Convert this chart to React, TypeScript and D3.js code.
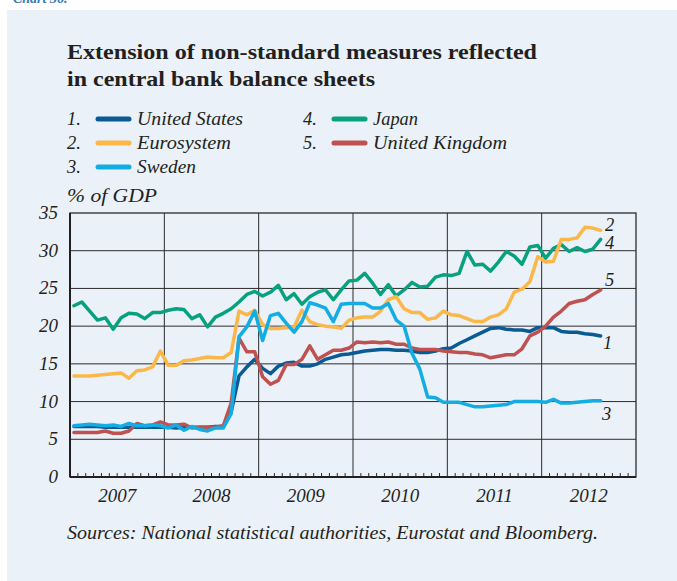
import React from 'react';
import * as d3 from 'd3';

// monthly observations, January 2007 to August 2012
const startYear = 2007;
const unitedStates = [6.7, 6.7, 6.7, 6.7, 6.6, 6.6, 6.6, 6.6, 6.6, 6.6, 6.6, 6.6, 6.6, 6.5, 6.6, 6.6, 6.6, 6.6, 6.7, 6.7, 8.6, 13.4, 14.6, 15.6, 14.4, 13.7, 14.7, 15.1, 15.2, 14.7, 14.7, 15.0, 15.6, 15.9, 16.2, 16.3, 16.5, 16.7, 16.8, 16.9, 16.9, 16.8, 16.8, 16.7, 16.5, 16.5, 16.7, 17.0, 17.1, 17.7, 18.2, 18.7, 19.2, 19.7, 19.8, 19.6, 19.5, 19.5, 19.3, 19.8, 19.8, 19.8, 19.3, 19.2, 19.2, 19.0, 18.9, 18.7];
const eurosystem = [13.4, 13.4, 13.4, 13.5, 13.6, 13.7, 13.8, 13.1, 14.1, 14.2, 14.6, 16.7, 14.8, 14.8, 15.4, 15.5, 15.7, 15.9, 15.8, 15.8, 16.5, 22.0, 21.5, 22.1, 20.2, 19.7, 19.7, 19.8, 19.9, 22.1, 20.6, 20.2, 20.0, 19.9, 19.7, 20.8, 21.1, 21.2, 21.2, 22.0, 23.5, 23.9, 22.3, 21.8, 21.8, 20.9, 21.1, 22.0, 21.5, 21.4, 21.0, 20.6, 20.6, 21.2, 21.5, 22.3, 24.5, 24.9, 25.9, 29.2, 28.5, 28.6, 31.5, 31.5, 31.7, 33.1, 33.0, 32.7];
const sweden = [6.8, 6.9, 7.0, 6.9, 6.8, 6.9, 6.7, 7.1, 6.8, 6.8, 6.9, 6.8, 6.5, 6.9, 6.2, 6.7, 6.3, 6.1, 6.5, 6.5, 8.4, 18.6, 19.9, 22.0, 18.1, 21.4, 21.7, 20.4, 19.2, 20.6, 23.1, 22.8, 22.4, 20.6, 22.9, 23.0, 23.0, 23.0, 22.4, 22.4, 23.0, 20.8, 20.0, 16.4, 14.3, 10.6, 10.5, 9.9, 9.9, 9.9, 9.6, 9.3, 9.3, 9.4, 9.5, 9.6, 10.0, 10.0, 10.0, 10.0, 9.9, 10.3, 9.8, 9.8, 9.9, 10.0, 10.1, 10.1];
const japan = [22.7, 23.2, 22.0, 20.8, 21.1, 19.6, 21.1, 21.7, 21.6, 21.0, 21.8, 21.8, 22.1, 22.3, 22.2, 21.0, 21.5, 19.9, 21.2, 21.7, 22.3, 23.2, 24.2, 24.6, 24.0, 24.5, 25.4, 23.5, 24.3, 22.9, 23.9, 24.5, 24.8, 23.5, 24.8, 26.0, 26.1, 27.0, 25.7, 24.2, 25.5, 24.0, 24.8, 25.8, 25.2, 25.3, 26.5, 26.8, 26.7, 27.0, 29.9, 28.1, 28.2, 27.3, 28.5, 29.9, 29.3, 28.2, 30.5, 30.7, 29.0, 30.3, 30.8, 29.9, 30.4, 29.9, 30.2, 31.5];
const unitedKingdom = [5.9, 5.9, 5.9, 5.9, 6.1, 5.8, 5.8, 6.1, 7.1, 6.8, 6.9, 7.3, 6.9, 6.9, 7.0, 6.5, 6.6, 6.6, 6.6, 6.8, 9.8, 18.4, 16.6, 16.6, 13.3, 12.3, 12.8, 14.9, 14.9, 15.6, 17.4, 15.6, 16.2, 16.8, 16.8, 17.1, 17.9, 17.8, 17.9, 17.8, 17.9, 17.6, 17.6, 17.1, 16.9, 16.9, 16.9, 16.7, 16.6, 16.5, 16.5, 16.3, 16.2, 15.8, 16.0, 16.2, 16.2, 17.0, 18.7, 19.2, 20.0, 21.2, 22.0, 23.0, 23.3, 23.5, 24.2, 24.8];

const seriesNames = ['United States', 'Eurosystem', 'Sweden', 'Japan', 'United Kingdom'];
const seriesColors = ['#0a5a93', '#fbb849', '#14ade3', '#08a17f', '#bf5250'];
const yearLabels = ['2007', '2008', '2009', '2010', '2011', '2012'];
const yTicks = [0, 5, 10, 15, 20, 25, 30, 35];

const FONT = '"Liberation Serif", "DejaVu Serif", serif';

export default function App() {
  const W = 677, H = 581;
  const left = 70, right = 636, top = 213, bottom = 477;
  const x = d3.scaleLinear().domain([2007, 2013]).range([left, right]);
  const y = d3.scaleLinear().domain([0, 35]).range([bottom, top]);

  const allSeries = [unitedStates, eurosystem, sweden, japan, unitedKingdom];
  const line = d3
    .line<number>()
    .x((_, i) => x(startYear + (i + 0.5) / 12))
    .y((d) => y(d));

  const drawOrder = [3, 0, 4, 1, 2];
  const monthTicks = d3.range(1, 72).filter((m) => m % 12 !== 0).map((m) => 2007 + m / 12);
  const yearBounds = d3.range(2008, 2013);

  const legendWidths = [106, 94, 59, 45, 134];
  const legend = [
    { n: 0, col: 0, row: 0 },
    { n: 1, col: 0, row: 1 },
    { n: 2, col: 0, row: 2 },
    { n: 3, col: 1, row: 0 },
    { n: 4, col: 1, row: 1 },
  ];

  const endLabels = [
    { n: 1, dx: 605, dy: 231 },
    { n: 3, dx: 605, dy: 249 },
    { n: 4, dx: 605, dy: 286 },
    { n: 0, dx: 603, dy: 349 },
    { n: 2, dx: 602, dy: 420 },
  ];

  return (
    <svg
      width={W}
      height={H}
      style={{ position: 'absolute', left: 0, top: 0, background: '#ffffff' }}
      fontFamily={FONT}
    >
      <rect x={7} y={10} width={W - 7} height={H - 10} fill="#eaf1f8" />
      <text x={13} y={3} fontSize={14} fontStyle="italic" fontWeight="bold" fill="#3a78b8">
        Chart 36.
      </text>

      <text x={67} y={59} fontSize={22} fontWeight="bold" fill="#231f20" textLength={470} lengthAdjust="spacingAndGlyphs">
        Extension of non-standard measures reflected
      </text>
      <text x={67} y={86} fontSize={22} fontWeight="bold" fill="#231f20" textLength={308} lengthAdjust="spacingAndGlyphs">
        in central bank balance sheets
      </text>

      {legend.map(({ n, col, row }) => {
        const bx = col === 0 ? 67 : 303;
        const by = 125 + row * 24;
        return (
          <g key={n}>
            <text x={bx} y={by} fontSize={18.5} fontStyle="italic" fill="#231f20">
              {n + 1}.
            </text>
            <line
              x1={bx + 31}
              x2={bx + 62}
              y1={by - 6}
              y2={by - 6}
              stroke={seriesColors[n]}
              strokeWidth={5}
              strokeLinecap="round"
            />
            <text
              x={bx + 70}
              y={by}
              fontSize={18.5}
              fontStyle="italic"
              fill="#231f20"
              textLength={legendWidths[n]}
              lengthAdjust="spacingAndGlyphs"
            >
              {seriesNames[n]}
            </text>
          </g>
        );
      })}

      <text x={67} y={202} fontSize={18.5} fontStyle="italic" fill="#231f20" textLength={90} lengthAdjust="spacingAndGlyphs">
        % of GDP
      </text>

      {/* grid */}
      {yTicks.slice(1, -1).map((t) => (
        <line key={'h' + t} x1={left} x2={right} y1={y(t)} y2={y(t)} stroke="#2b2b2b" strokeWidth={1} />
      ))}
      {yearBounds.map((yr) => (
        <line key={'v' + yr} x1={x(yr)} x2={x(yr)} y1={top} y2={bottom} stroke="#2b2b2b" strokeWidth={1} />
      ))}
      {monthTicks.map((m, i) => (
        <line key={'m' + i} x1={x(m)} x2={x(m)} y1={bottom} y2={bottom - 4} stroke="#2b2b2b" strokeWidth={1} />
      ))}
      <rect x={left} y={top} width={right - left} height={bottom - top} fill="none" stroke="#2b2b2b" strokeWidth={1.3} />
      <line x1={left} x2={right} y1={bottom} y2={bottom} stroke="#231f20" strokeWidth={2} />
      <line x1={left} x2={left} y1={top} y2={bottom} stroke="#231f20" strokeWidth={2} />

      {yTicks.map((t) => (
        <text key={'yl' + t} x={58} y={y(t) + 6} fontSize={19} fontStyle="italic" textAnchor="end" fill="#231f20">
          {t}
        </text>
      ))}
      {yearLabels.map((lab, i) => (
        <text
          key={'xl' + lab}
          x={x(2007 + i + 0.5)}
          y={502}
          fontSize={19}
          fontStyle="italic"
          textAnchor="middle"
          fill="#231f20"
        >
          {lab}
        </text>
      ))}

      {drawOrder.map((n) => (
        <path
          key={'s' + n}
          d={line(allSeries[n]) || ''}
          fill="none"
          stroke={seriesColors[n]}
          strokeWidth={3.5}
          strokeLinejoin="round"
          strokeLinecap="round"
        />
      ))}

      {endLabels.map(({ n, dx, dy }) => (
        <text key={'el' + n} x={dx} y={dy} fontSize={18.5} fontStyle="italic" fill="#231f20">
          {n + 1}
        </text>
      ))}

      <text x={67} y={539} fontSize={18} fontStyle="italic" fill="#231f20" textLength={531} lengthAdjust="spacingAndGlyphs">
        Sources: National statistical authorities, Eurostat and Bloomberg.
      </text>
    </svg>
  );
}
